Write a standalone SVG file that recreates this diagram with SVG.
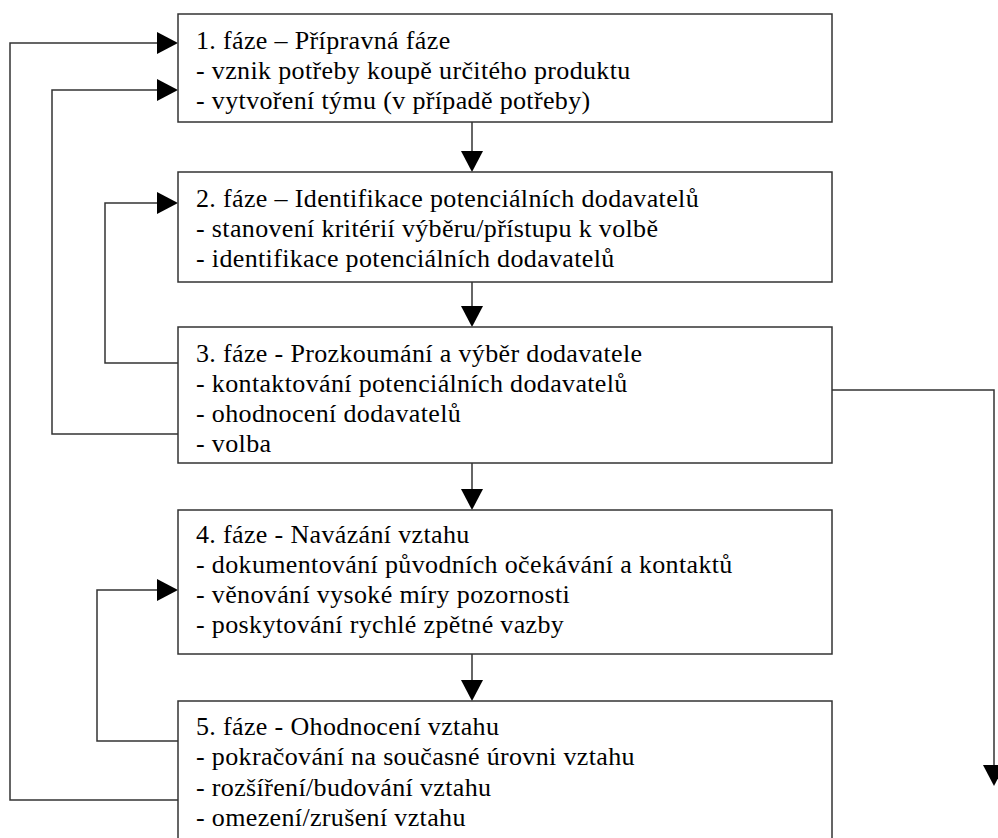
<svg xmlns="http://www.w3.org/2000/svg" width="998" height="838" viewBox="0 0 998 838">
<defs>
<style>
.box{fill:#fff;stroke:#333;stroke-width:1.5}
.ln{fill:none;stroke:#333;stroke-width:1.5}
.ah{fill:#000}
text{font-family:"Liberation Serif","Times New Roman",serif;font-size:26px;letter-spacing:0.35px;fill:#000}
</style>
</defs>
<rect width="998" height="838" fill="#fff"/>
<g id="connectors">
<path class="ln" d="M472 122V152"/><polygon class="ah" points="461,151 483,151 472,172"/>
<path class="ln" d="M472 282V307"/><polygon class="ah" points="461,306 483,306 472,327"/>
<path class="ln" d="M472 463V490"/><polygon class="ah" points="461,489 483,489 472,510"/>
<path class="ln" d="M472 654V681"/><polygon class="ah" points="461,680 483,680 472,701"/>
<path class="ln" d="M178 800H10V43H158"/><polygon class="ah" points="157,32 157,54 178,43"/>
<path class="ln" d="M178 434H52V90H158"/><polygon class="ah" points="157,79 157,101 178,90"/>
<path class="ln" d="M178 363H105V203H158"/><polygon class="ah" points="157,192 157,214 178,203"/>
<path class="ln" d="M178 741H97V590H158"/><polygon class="ah" points="157,579 157,601 178,590"/>
<path class="ln" d="M832 390H994V766"/><polygon class="ah" points="983,765 1005,765 994,786"/>
</g>
<g id="n1">
<rect class="box" x="178" y="14" width="654" height="108"/>
<text x="196" y="49">1. fáze – Přípravná fáze</text>
<text x="196" y="79">- vznik potřeby koupě určitého produktu</text>
<text x="196" y="109">- vytvoření týmu (v případě potřeby)</text>
</g>
<g id="n2">
<rect class="box" x="178" y="172" width="654" height="110"/>
<text x="196" y="207">2. fáze – Identifikace potenciálních dodavatelů</text>
<text x="196" y="237">- stanovení kritérií výběru/přístupu k volbě</text>
<text x="196" y="267">- identifikace potenciálních dodavatelů</text>
</g>
<g id="n3">
<rect class="box" x="178" y="327" width="654" height="136"/>
<text x="196" y="362">3. fáze - Prozkoumání a výběr dodavatele</text>
<text x="196" y="392">- kontaktování potenciálních dodavatelů</text>
<text x="196" y="422">- ohodnocení dodavatelů</text>
<text x="196" y="452">- volba</text>
</g>
<g id="n4">
<rect class="box" x="178" y="510" width="654" height="144"/>
<text x="196" y="543">4. fáze - Navázání vztahu</text>
<text x="196" y="573">- dokumentování původních očekávání a kontaktů</text>
<text x="196" y="603">- věnování vysoké míry pozornosti</text>
<text x="196" y="633">- poskytování rychlé zpětné vazby</text>
</g>
<g id="n5">
<rect class="box" x="178" y="701" width="654" height="150"/>
<text x="196" y="735">5. fáze - Ohodnocení vztahu</text>
<text x="196" y="765">- pokračování na současné úrovni vztahu</text>
<text x="196" y="796">- rozšíření/budování vztahu</text>
<text x="196" y="826">- omezení/zrušení vztahu</text>
</g>
</svg>
